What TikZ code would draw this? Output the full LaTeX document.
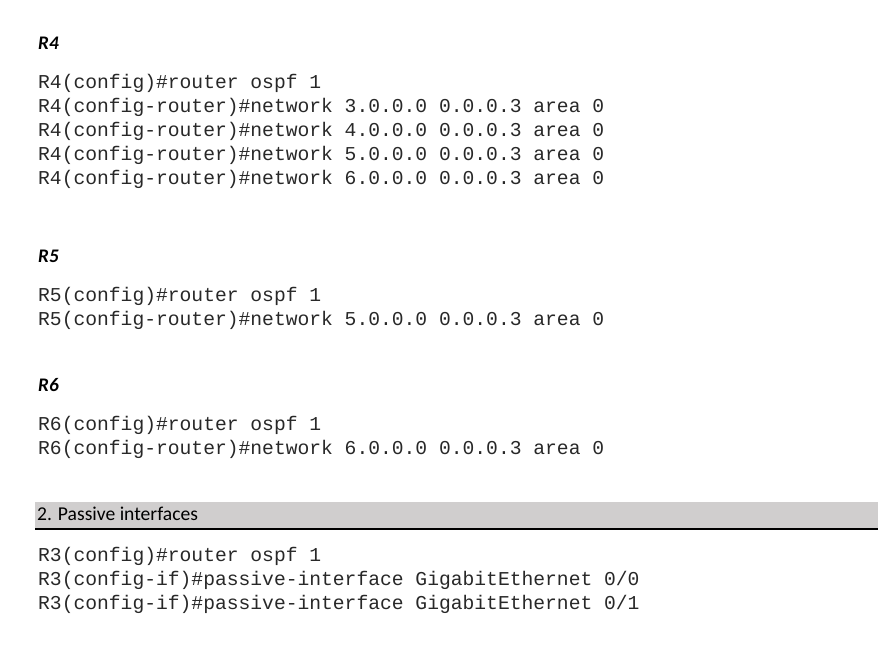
\documentclass[tikz,border=0pt]{standalone}
\usepackage{fontspec}
\setmainfont{Carlito}
\setmonofont{Liberation Mono}
\begin{document}
\begin{tikzpicture}[x=1pt,y=-1pt,
  cmd/.style={anchor=base west,inner sep=0pt,font=\fontsize{19.65}{24}\ttfamily,text={rgb,255:red,40;green,40;blue,40}},
  head/.style={anchor=base west,inner sep=0pt,font=\fontsize{19.2}{22}\selectfont\bfseries\itshape},
  bartext/.style={anchor=base west,inner sep=0pt,font=\fontsize{19.6}{22}\selectfont}]
\useasboundingbox (0,0) rectangle (891,648);
% R4
\node[head] (h4) at (38,49) {R4};
\node[cmd] (a1) at (38,88) {R4(config)\#router ospf 1};
\node[cmd] (a2) at (38,112) {R4(config-router)\#network 3.0.0.0 0.0.0.3 area 0};
\node[cmd] (a3) at (38,136) {R4(config-router)\#network 4.0.0.0 0.0.0.3 area 0};
\node[cmd] (a4) at (38,160) {R4(config-router)\#network 5.0.0.0 0.0.0.3 area 0};
\node[cmd] (a5) at (38,184) {R4(config-router)\#network 6.0.0.0 0.0.0.3 area 0};
% R5
\node[head] (h5) at (38,262) {R5};
\node[cmd] (b1) at (38,301) {R5(config)\#router ospf 1};
\node[cmd] (b2) at (38,325) {R5(config-router)\#network 5.0.0.0 0.0.0.3 area 0};
% R6
\node[head] (h6) at (38,391) {R6};
\node[cmd] (c1) at (38,430) {R6(config)\#router ospf 1};
\node[cmd] (c2) at (38,454) {R6(config-router)\#network 6.0.0.0 0.0.0.3 area 0};
% bar
\fill[fill={rgb,255:red,208;green,206;blue,206}] (35,502) rectangle (878,529);
\draw[line width=1.2pt] (35,529) -- (878,529);
\node[bartext] (bt) at (37,520) {2. Passive interfaces};
% R3
\node[cmd] (d1) at (38,561) {R3(config)\#router ospf 1};
\node[cmd] (d2) at (38,585) {R3(config-if)\#passive-interface GigabitEthernet 0/0};
\node[cmd] (d3) at (38,609) {R3(config-if)\#passive-interface GigabitEthernet 0/1};
\end{tikzpicture}
\end{document}
